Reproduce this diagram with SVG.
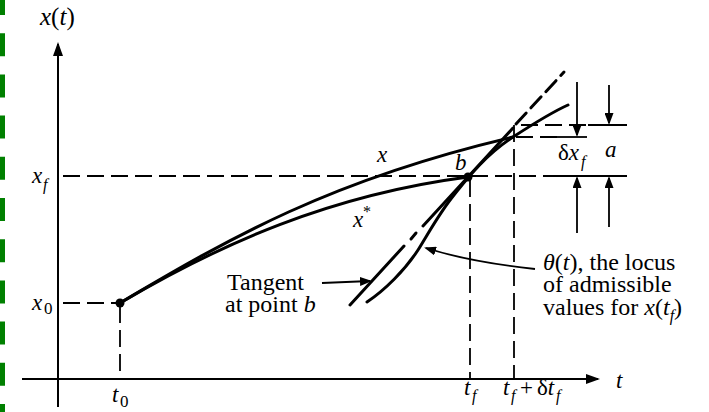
<svg xmlns="http://www.w3.org/2000/svg" width="709" height="412" viewBox="0 0 709 412">
<style>
.ax{stroke:#000;stroke-width:2;fill:none}
.cv{stroke:#000;stroke-width:3;fill:none;stroke-linecap:round}
.dash{stroke:#000;stroke-width:1.8;fill:none;stroke-dasharray:17 7}
.sol{stroke:#000;stroke-width:1.8;fill:none}
.arr{stroke:#000;stroke-width:1.8;fill:none}
.i{font-style:italic}
.sub{font-size:16px}
.big{font-size:24px}
text{font-family:"Liberation Serif","Times New Roman",serif}
</style>
<defs>
<marker id="ah" viewBox="0 0 12 9" markerWidth="12" markerHeight="9" markerUnits="userSpaceOnUse" refX="10" refY="4.5" orient="auto">
<path d="M0,0 L12,4.5 L0,9 z" fill="#000"/>
</marker>
<marker id="ahb" viewBox="0 0 14 10" markerWidth="14" markerHeight="10" markerUnits="userSpaceOnUse" refX="12" refY="5" orient="auto">
<path d="M0,0 L14,5 L0,10 z" fill="#000"/>
</marker>
</defs>
<line x1="2.5" y1="-8" x2="2.5" y2="412" stroke="#008000" stroke-width="5" stroke-dasharray="23 18.2"/>
<g id="axes">
<path class="ax" d="M58,407 V44" marker-end="url(#ahb)"/>
<path class="ax" d="M22,379 H598" marker-end="url(#ahb)"/>
</g>
<g id="guides">
<path class="dash" d="M63,176 H555"/>
<path class="sol" d="M555,176 H627"/>
<path class="dash" d="M63,303 H116"/>
<path class="dash" d="M120,306 V379"/>
<path class="dash" d="M470,180 V379"/>
<path class="dash" d="M514,125 V379"/>
<path class="dash" d="M516,137 H557"/>
<path class="sol" d="M557,137 H587"/>
<path class="dash" d="M521,125 H588"/>
<path class="sol" d="M588,125 H627"/>
</g>
<g id="curves">
<path id="x" class="cv" d="M120,303 C230,238 330,180 513,137"/>
<path id="xstar" class="cv" d="M120,303 C220,244 330,195 468,177"/>
<path id="theta" class="cv" d="M367,302 C385,290 405,270 418,250 C428,234 440,212 454,195 C466,180 485,155 513,137 C530,126 550,113 568,105"/>
<path id="tangent" class="cv" stroke-width="2.6" d="M350,305 L404,246"/>
<path class="cv" stroke-width="2.6" d="M411,239 L416,233"/>
<path class="cv" stroke-width="2.6" d="M423,226 L513,128"/>
<path class="cv" stroke-width="2.4" stroke-dasharray="15 7" d="M516,124 L564,72"/>
<circle cx="120" cy="303" r="4.5" fill="#000"/>
<circle cx="468" cy="177" r="4.5" fill="#000"/>
</g>
<g id="connectors">
<path class="arr" d="M577,82 V135" marker-end="url(#ah)"/>
<path class="arr" d="M577,233 V178" marker-end="url(#ah)"/>
<path class="arr" d="M609,85 V123" marker-end="url(#ah)"/>
<path class="arr" d="M609,227 V178" marker-end="url(#ah)"/>
<path class="arr" d="M322,283 L370,281" marker-end="url(#ah)"/>
<path class="arr" d="M535,269 Q470,262 426,248" marker-end="url(#ah)"/>
</g>
<g id="labels" font-family="Liberation Serif, serif" font-size="23" fill="#000">
<text x="40" y="25" font-size="25"><tspan class="i">x</tspan>(<tspan class="i">t</tspan>)</text>
<text x="616" y="388" class="i">t</text>
<text x="32" y="183" class="i">x</text><text x="43" y="190" class="i sub">f</text>
<text x="32" y="310" class="i">x</text><text x="44" y="314" font-size="17">0</text>
<text x="112" y="402" class="i">t</text><text x="120" y="407" font-size="17">0</text>
<text x="464" y="395" class="i">t</text><text x="472" y="401" class="i sub">f</text>
<text x="503" y="395" class="i">t</text><text x="511" y="401" class="i sub">f</text>
<text x="520" y="395">+</text>
<text x="537" y="395">δ<tspan class="i">t</tspan></text><text x="556" y="401" class="i sub">f</text>
<text x="558" y="160">δ<tspan class="i">x</tspan></text><text x="581" y="167" class="i sub">f</text>
<text x="605" y="157" class="i">a</text>
<text x="455" y="170" class="i">b</text>
<text x="377" y="162" class="i">x</text>
<text x="353" y="227" class="i">x</text><text x="363" y="217" class="sub">*</text>
<text x="227" y="290" class="big">Tangent</text>
<text x="225" y="312" class="big">at point <tspan class="i">b</tspan></text>
<text x="543" y="270" class="big"><tspan class="i">θ</tspan>(<tspan class="i">t</tspan>), the locus</text>
<text x="543" y="292" class="big">of admissible</text>
<text x="543" y="315" class="big">values for <tspan class="i">x</tspan>(<tspan class="i">t</tspan><tspan class="i sub" dy="6">f</tspan><tspan dy="-6">)</tspan></text>
</g>
</svg>
